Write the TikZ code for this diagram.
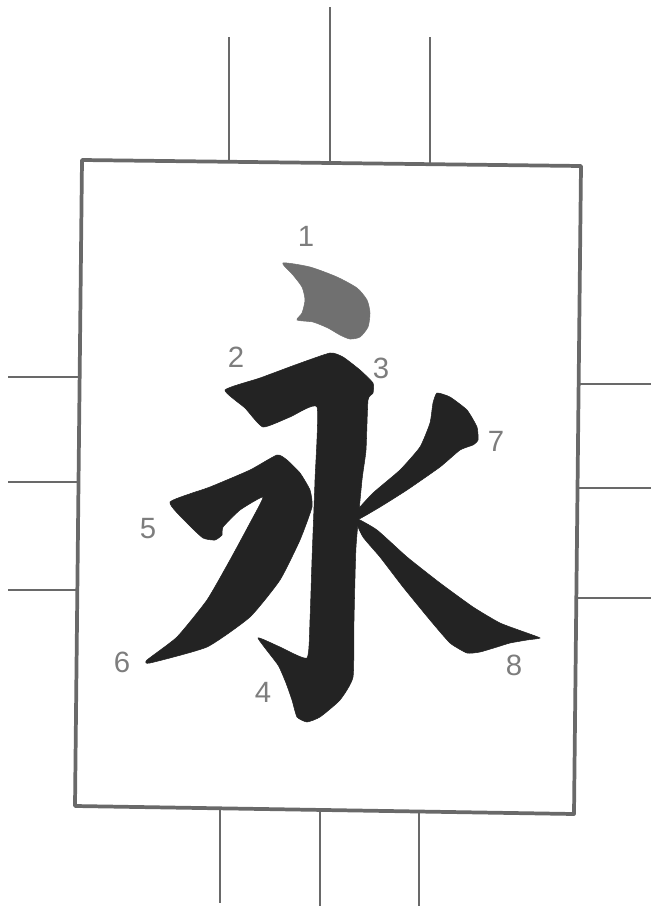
\documentclass[tikz,border=0pt]{standalone}
\usepackage{fontspec}
\setsansfont{Liberation Sans}
\usetikzlibrary{calc}
\definecolor{framegray}{RGB}{105,105,105}
\definecolor{inkblack}{RGB}{35,35,35}
\definecolor{dotgray}{RGB}{112,112,112}
\definecolor{numgray}{RGB}{125,125,125}
\tikzset{
  frameline/.style = {draw=framegray, line width=2.8pt, line cap=round, line join=round},
  tickline/.style  = {draw=framegray, line width=2.2pt},
  inkstroke/.style = {fill=inkblack, draw=inkblack, line width=0.4pt},
  dotstroke/.style = {fill=dotgray, draw=dotgray, line width=0.4pt},
  num/.style       = {text=numgray, font=\sffamily\fontsize{22}{22}\selectfont, inner sep=0pt},
}

\begin{document}
\begin{tikzpicture}[x=0.75pt, y=-0.75pt]
  \useasboundingbox (0,0) rectangle (651,910);
  % frame
  \coordinate (tl) at (82,160);
  \coordinate (tr) at (581,166);
  \coordinate (br) at (574,814);
  \coordinate (bl) at (75,806);
  \draw[frameline] (tl) -- (tr) -- (br) -- (bl) -- cycle;
  % ticks on the four sides
  \foreach \x/\ya/\yb in {229/162/37, 330/163/7, 430/164/37}
    \draw[tickline] (\x,\ya) -- (\x,\yb);
  \foreach \x/\ya/\yb in {220/808/903, 320/810/906, 419/811/906}
    \draw[tickline] (\x,\ya) -- (\x,\yb);
  \foreach \y/\xa in {377/80, 482/79, 590/77}
    \draw[tickline] (\xa,\y) -- (8,\y);
  \foreach \y/\xa in {384/578, 488/577, 598/576}
    \draw[tickline] (\xa,\y) -- (651,\y);

  % stroke 1: the dot
  \path[dotstroke] plot[smooth cycle, tension=0.4] coordinates {
    (283,263) (310,267) (337,277) (357,288) (367,300) (370,313) (368,327)
    (360,337) (350,339) (340,335) (328,328) (313,322) (297,320) (302,313)
    (305,300) (302,287) (293,275)};
  % strokes 2-4: top, vertical and hook
  \path[inkstroke] plot[smooth cycle, tension=0.3] coordinates {
    (225,390) (260,378) (295,365) (330,353) (343,357) (360,370) (373,383)
    (373,393) (368,400) (366,450) (362,480) (356,547) (354,620) (353,677)
    (340,700) (320,717) (307,722) (297,717) (292,700) (286,683) (278,665)
    (258,638) (280,647) (307,658) (310,620) (312,560) (315,480) (317,407)
    (290,417) (263,427) (245,408)};
  % strokes 5-6: left rise and left falling
  \path[inkstroke] plot[smooth cycle, tension=0.3] coordinates {
    (170,502) (210,487) (250,470) (277,455) (287,460) (300,473) (310,490)
    (312,507) (300,540) (280,580) (250,617) (207,647) (150,663) (147,660)
    (177,637) (207,600) (230,560) (250,523) (263,497) (240,510) (223,527)
    (222,535) (215,540) (203,538) (187,523)};
  % stroke 7: right upper
  \path[inkstroke] plot[smooth cycle, tension=0.3] coordinates {
    (437,393) (450,397) (467,410) (477,427) (478,440) (473,445) (460,450)
    (440,467) (407,490) (380,507) (357,520) (355,513) (373,493) (400,470)
    (420,447) (430,423) (433,403)};
  % stroke 8: right falling
  \path[inkstroke] plot[smooth cycle, tension=0.3] coordinates {
    (355,518) (377,530) (407,557) (440,583) (473,607) (500,623) (527,633)
    (540,638) (527,640) (510,643) (497,647) (480,652) (467,653) (450,643)
    (430,620) (403,587) (380,557) (363,537)};

  % stroke order numbers
  \node[num] (n1) at (306,236) {1};
  \node[num] (n2) at (236,357) {2};
  \node[num] (n3) at (381,368) {3};
  \node[num] (n4) at (263,692) {4};
  \node[num] (n5) at (148,529) {5};
  \node[num] (n6) at (122,662) {6};
  \node[num] (n7) at (496,441) {7};
  \node[num] (n8) at (514,665) {8};
\end{tikzpicture}
\end{document}
